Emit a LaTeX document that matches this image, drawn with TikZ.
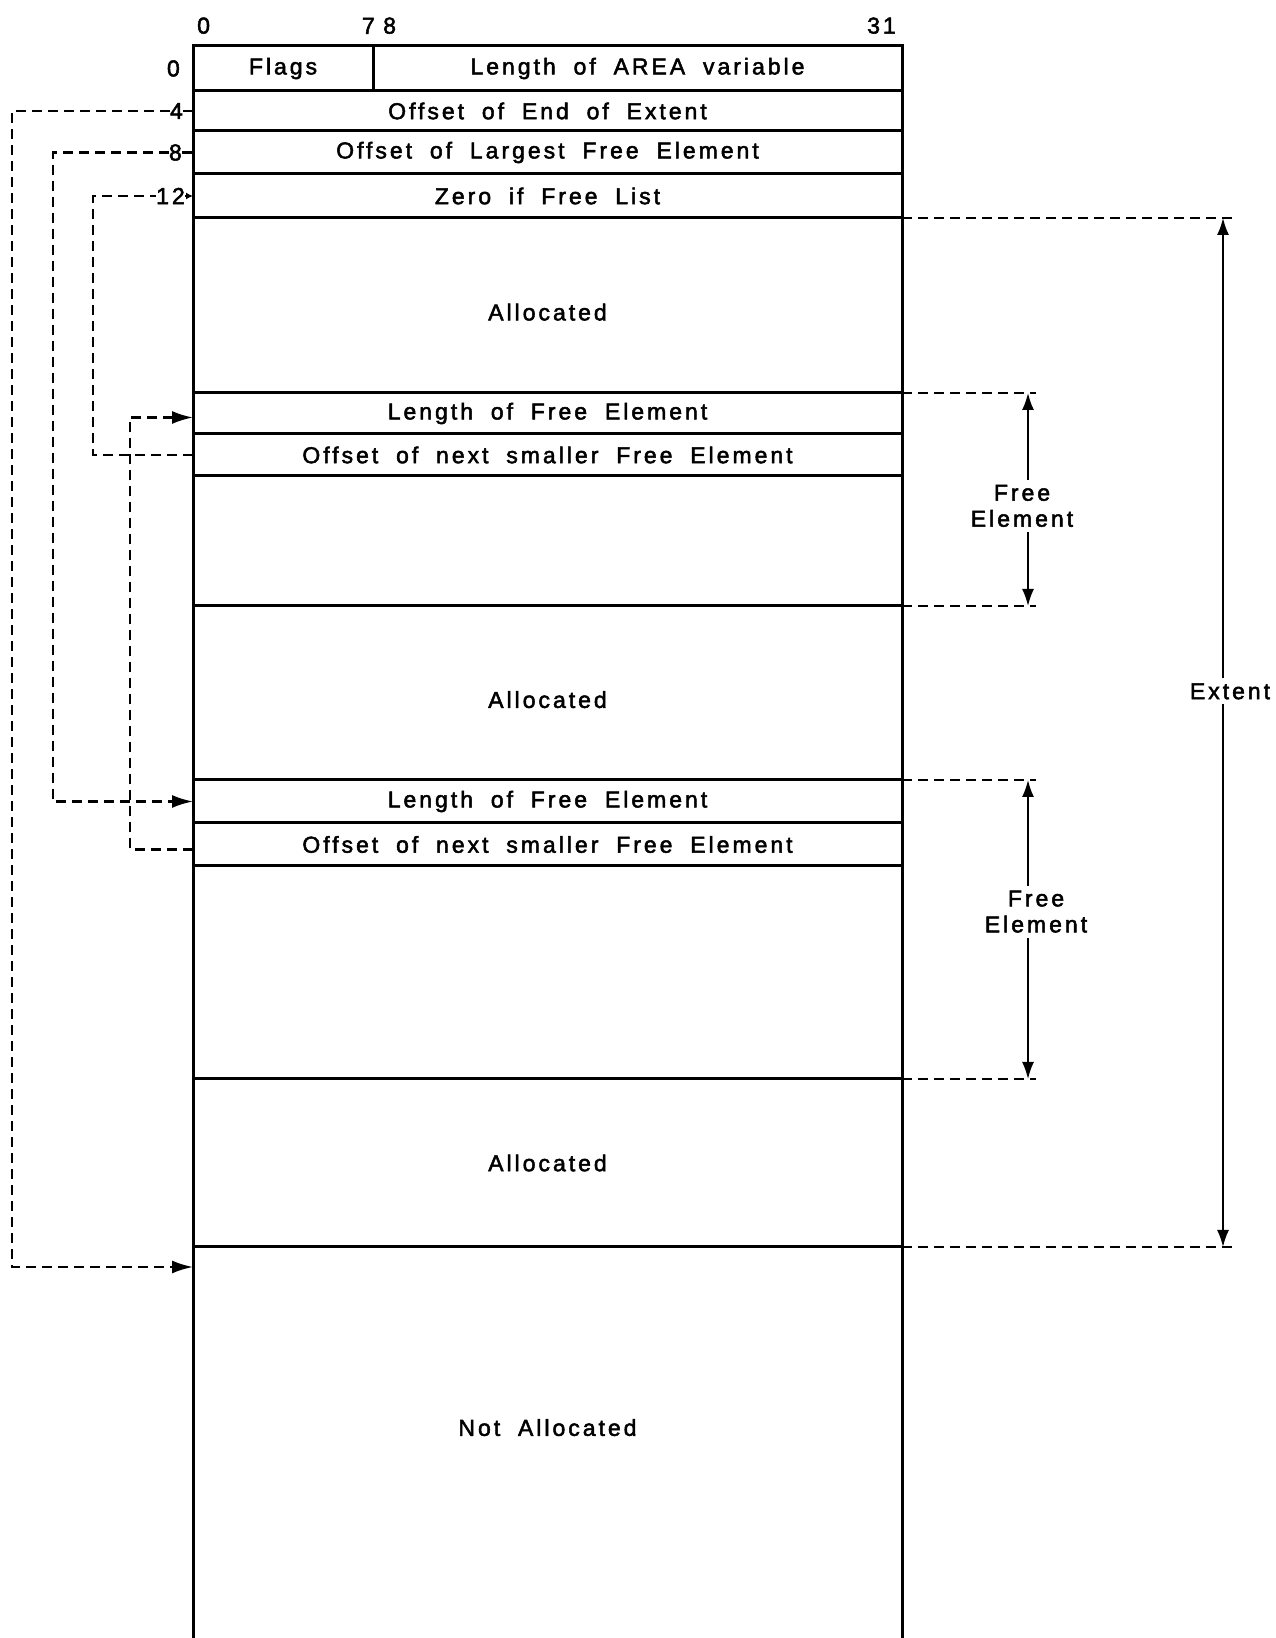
\documentclass[tikz,border=0pt]{standalone}
\usepackage{fontspec}
\setmainfont{Liberation Sans}[LetterSpace=13, WordSpace=1.9, FakeBold=2.2]
\usetikzlibrary{arrows.meta,positioning}
\newcommand{\figfont}{\fontsize{23}{26}\selectfont}

\begin{document}
\begin{tikzpicture}[
    x=1pt, y=1pt,
    row/.style={rectangle, draw, line width=3pt, outer sep=0pt, inner sep=0pt,
                minimum width=709pt, font=\figfont},
    hdr/.style={inner sep=0pt, font=\figfont},
    offlbl/.style={inner sep=0pt, font=\figfont},
    ptr/.style={line width=2.3pt, dash pattern=on 10pt off 6pt},
    ptrtip/.style={-{Latex[length=21pt, width=13pt]}},
    tick/.style={line width=2.3pt},
    dimln/.style={line width=2.3pt, dash pattern=on 10pt off 6pt},
    dimarr/.style={line width=1.8pt, {Latex[length=17pt, width=12pt]}-{Latex[length=17pt, width=12pt]}},
    dimlbl/.style={fill=white, align=center, inner sep=5pt, font=\figfont},
]
\useasboundingbox (0,0) rectangle (1275,1638);
\clip (0,0) rectangle (1275,1638);

% ── Header word (bytes 0..7, 8..31) ──
\node[row, minimum width=180pt, minimum height=45pt, anchor=north west]
    (r0flags) at (193,1592) {Flags};
\node[row, minimum width=529pt, minimum height=45pt, right=0pt of r0flags]
    (r0len) {Length of AREA variable};

% ── Control words ──
\node[row, minimum height=40pt, below right=0pt and 0pt of r0flags.south west] (r4) {Offset of End of Extent};
\node[row, minimum height=43pt, below=0pt of r4] (r8) {Offset of Largest Free Element};
\node[row, minimum height=44pt, below=0pt of r8] (r12) {Zero if Free List};

% ── Extent body ──
\node[row, minimum height=175pt, text height=30pt, below=0pt of r12] (alloc1) {Allocated};
\node[row, minimum height=41pt, below=0pt of alloc1] (len1) {Length of Free Element};
\node[row, minimum height=42pt, below=0pt of len1] (nxt1) {Offset of next smaller Free Element};
\node[row, minimum height=130pt, below=0pt of nxt1] (free1) {};
\node[row, minimum height=174pt, text height=30pt, below=0pt of free1] (alloc2) {Allocated};
\node[row, minimum height=43pt, below=0pt of alloc2] (len2) {Length of Free Element};
\node[row, minimum height=43pt, below=0pt of len2] (nxt2) {Offset of next smaller Free Element};
\node[row, minimum height=213pt, below=0pt of nxt2] (free2) {};
\node[row, minimum height=168pt, below=0pt of free2] (alloc3) {Allocated};
\node[row, minimum height=431pt, text depth=70pt, below=0pt of alloc3] (notalloc) {Not Allocated};

% ── Bit numbers ──
\node[hdr, above right=12pt and 4pt of r0flags.north west] (c0) {0};
\node[hdr, above left=12pt and -2pt of r0flags.north east] (c7) {7};
\node[hdr, above right=12pt and 10pt of r0len.north west] (c8) {8};
\node[hdr, above left=12pt and 6pt of r0len.north east] (c31) {31};

% ── Byte offsets ──
\node[offlbl, left=13pt of r0flags] (lbl0) {0};
\node[offlbl, left=10pt of r4] (lbl4) {4};
\node[offlbl, left=11pt of r8] (lbl8) {8};
\node[offlbl, left=8pt of r12] (lbl12) {12};
\draw[tick] (lbl4.east) -- (r4.west);
\draw[tick] (lbl8.east) -- (r8.west);
\draw[line width=1.8pt, -{Latex[length=7pt, width=7pt]}] (lbl12.east) -- (r12.west);

% ── Pointer lanes ──
\coordinate (laneA) at (12,0);
\coordinate (laneB) at (53,0);
\coordinate (laneC) at (93,0);
\coordinate (laneD) at (130,0);

\draw[ptr, ptrtip] (lbl4.west) -- (lbl4.west -| laneA) |- ([yshift=-20pt]notalloc.north west);
\draw[ptr, ptrtip] (lbl8.west) -- (lbl8.west -| laneB) |- (len2.west);
\draw[ptr] (nxt1.west) -- (nxt1.west -| laneC) |- (lbl12.west);
\draw[ptr, ptrtip] ([yshift=-5pt]nxt2.west) -- ([yshift=-5pt]nxt2.west -| laneD) |- ([yshift=-4pt]len1.west);

% ── Dimensions on the right ──
\coordinate (feX) at (1028,0);
\coordinate (feEnd) at (1036,0);
\coordinate (extX) at (1223,0);
\coordinate (extEnd) at (1233,0);

\draw[dimln] (alloc1.north east) -- (alloc1.north east -| extEnd);
\draw[dimln] (notalloc.north east) -- (notalloc.north east -| extEnd);
\draw[dimarr] (alloc1.north east -| extX) -- (notalloc.north east -| extX)
    node[dimlbl, pos=0.46, xshift=7pt] (extlbl) {Extent};

\draw[dimln] (len1.north east) -- (len1.north east -| feEnd);
\draw[dimln] (free1.south east) -- (free1.south east -| feEnd);
\draw[dimarr] (len1.north east -| feX) -- (free1.south east -| feX)
    node[dimlbl, pos=0.53, xshift=-6pt] (fe1lbl) {Free\\Element};

\draw[dimln] (len2.north east) -- (len2.north east -| feEnd);
\draw[dimln] (free2.south east) -- (free2.south east -| feEnd);
\draw[dimarr] (len2.north east -| feX) -- (free2.south east -| feX)
    node[dimlbl, pos=0.44, xshift=8pt] (fe2lbl) {Free\\Element};

\end{tikzpicture}
\end{document}
